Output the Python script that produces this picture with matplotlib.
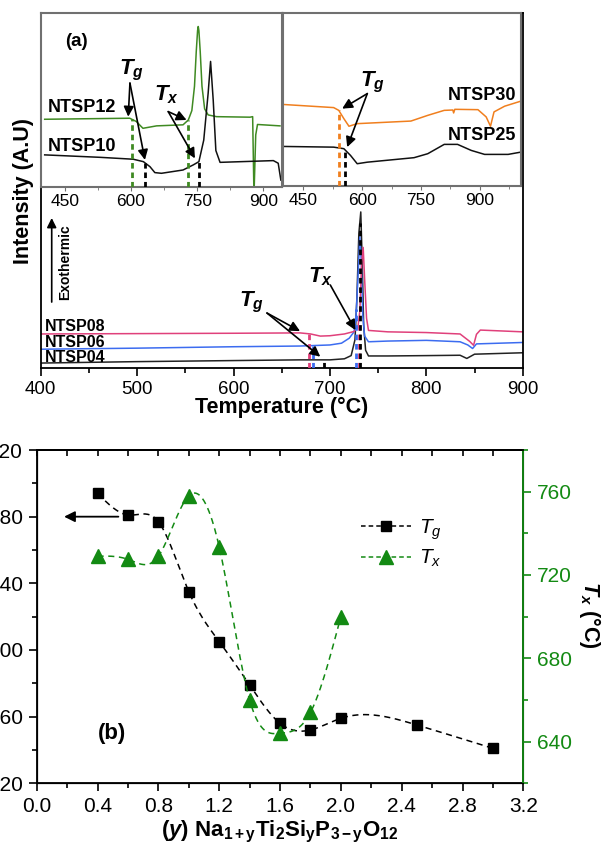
import numpy as np
import matplotlib
matplotlib.use('Agg')
from matplotlib import pyplot as plt
from matplotlib.ticker import MultipleLocator
from matplotlib.lines import Line2D

plt.rcParams['font.family'] = ['Liberation Sans', 'DejaVu Sans']
plt.rcParams['mathtext.fontset'] = 'custom'
plt.rcParams['mathtext.rm'] = 'Liberation Sans'
plt.rcParams['mathtext.it'] = 'Liberation Sans:italic'
plt.rcParams['mathtext.bf'] = 'Liberation Sans:bold'
plt.rcParams['mathtext.bfit'] = 'Liberation Sans:italic:bold'

# ---- panel (a) main : DSC traces (temperature C, signal arb. units)
ntsp04_T = [400, 500, 600, 669, 700, 715, 722, 726, 728, 730, 732, 733.5, 735, 737, 740, 760, 800, 835, 842, 846, 850, 900]
ntsp04_I = [1.4, 1.8, 2.1, 2.3, 2.3, 2.6, 3.5, 8, 20, 38, 44, 30, 12, 5, 3.4, 3.4, 3.5, 3.6, 2.7, 3.3, 3.9, 4.3]
ntsp06_T = [400, 500, 600, 669, 700, 712, 720, 725, 727, 729, 731, 732.5, 734, 736, 740, 760, 800, 835, 843, 848, 852, 900]
ntsp06_I = [5.3, 5.6, 6.0, 6.2, 6.5, 7.0, 8.4, 10.2, 14, 25, 37, 30, 15, 9, 7.4, 7.6, 7.8, 7.4, 6.5, 5.5, 6.8, 7.2]
ntsp08_T = [400, 600, 669, 680, 690, 700, 715, 725, 729, 731, 733, 734.5, 736, 738, 740, 760, 800, 835, 845, 849, 852, 856, 900]
ntsp08_I = [9.6, 9.8, 9.9, 9.6, 9.0, 9.1, 9.6, 10.3, 11.5, 16, 30, 34, 25, 14, 10.6, 10.2, 10.0, 9.6, 7.5, 6.4, 9.5, 10.7, 10.2]
ntsp04_marks = [694, 731]
ntsp06_marks = [682, 727.5]
ntsp08_marks = [678, 729.8]

# ---- panel (a) left inset
ntsp12_T = [404, 597, 612, 627, 658, 718, 730, 738, 744, 748, 751, 752.5, 754, 757, 761, 767, 775, 794, 870, 876, 879, 883, 887, 938]
ntsp12_I = [39.0, 39.6, 37.7, 33.8, 35.2, 35.8, 38.6, 44, 58, 78, 90, 92.4, 90, 78, 58, 45, 41.5, 40.5, 40.2, 40.5, -5, 30, 36, 35.2]
ntsp10_T = [404, 529, 605, 628, 643, 654, 669, 718, 741, 754, 765, 775, 780.5, 786.5, 792.5, 802, 923, 934, 940]
ntsp10_I = [18.5, 17.1, 16.0, 14.6, 11.7, 8.3, 7.9, 9.8, 12.7, 14.6, 27, 54, 72.3, 50, 21, 14.2, 15.2, 13.7, 4]
ntsp12_marks = [602.7, 730]
ntsp10_marks = [632, 754]

# ---- panel (a) right inset
ntsp30_T = [399, 527, 540, 553, 566, 587, 724, 767, 809, 831, 833, 836, 895, 916, 927, 936, 963, 1004]
ntsp30_I = [47.2, 45.4, 43.8, 39, 34.6, 36.1, 37.6, 40.9, 43.8, 44.0, 42.3, 44.4, 44.2, 40, 34.6, 42.9, 46.2, 49.1]
ntsp25_T = [399, 527, 553, 570, 587, 613, 732, 767, 809, 843, 878, 912, 972, 1004]
ntsp25_I = [22.9, 22.5, 21.6, 17.7, 12.9, 13.8, 16.4, 18.7, 24.1, 24.1, 20.6, 18.3, 18.3, 19.6]
ntsp30_marks = [540]
ntsp25_marks = [555]

# ---- panel (b)
y_content = [0.4, 0.6, 0.8, 1.0, 1.2, 1.4, 1.6, 1.8, 2.0, 2.5, 3.0]
tg_values = [694, 681, 677, 635, 605, 579, 556, 552, 559, 555, 541]
tx_content = [0.4, 0.6, 0.8, 1.0, 1.2, 1.4, 1.6, 1.8, 2.0]
tx_values = [729, 727.5, 729, 758, 733.5, 660, 644, 654, 700]

pink = '#e0407b'
blue = '#3c6cf0'
green_a = '#3f8a22'
orange = '#f07f1e'
green_b = '#138a13'
frame_gray = '#707070'


def natural_spline(xs, ys, num=300):
    xs = np.asarray(xs, float)
    ys = np.asarray(ys, float)
    n = len(xs)
    h = np.diff(xs)
    A = np.zeros((n, n))
    r = np.zeros(n)
    A[0, 0] = 1
    A[-1, -1] = 1
    for i in range(1, n - 1):
        A[i, i - 1] = h[i - 1]
        A[i, i] = 2 * (h[i - 1] + h[i])
        A[i, i + 1] = h[i]
        r[i] = 6 * ((ys[i + 1] - ys[i]) / h[i] - (ys[i] - ys[i - 1]) / h[i - 1])
    m = np.linalg.solve(A, r)
    xx = np.linspace(xs[0], xs[-1], num)
    k = np.clip(np.searchsorted(xs, xx) - 1, 0, n - 2)
    t0 = xx - xs[k]
    t1 = xs[k + 1] - xx
    hk = h[k]
    yy = (m[k] * t1 ** 3 + m[k + 1] * t0 ** 3) / (6 * hk) \
        + (ys[k] / hk - m[k] * hk / 6) * t1 + (ys[k + 1] / hk - m[k + 1] * hk / 6) * t0
    return xx, yy


def draw_marks(ax, T, I, marks, color):
    for t in marks:
        ax.plot([t, t], [0, np.interp(t, T, I)], color=color, lw=2, ls=(0, (2, 1.4)), zorder=3)


def point_to(ax, tail, heads):
    for hd in heads:
        ax.annotate('', xy=hd, xytext=tail,
                    arrowprops=dict(arrowstyle='-|>', color='k', lw=1.2,
                                    mutation_scale=15, shrinkA=0, shrinkB=0))


fig = plt.figure(figsize=(6.06, 8.47), dpi=100)

# ================= panel (a)
ax = fig.add_axes([0.0672, 0.5655, 0.7954, 0.4188])
ax.set_xlim(400, 900)
ax.set_ylim(0, 100)
ax.plot(ntsp04_T, ntsp04_I, color='#222222', lw=1.1)
ax.plot(ntsp06_T, ntsp06_I, color=blue, lw=1.1)
ax.plot(ntsp08_T, ntsp08_I, color=pink, lw=1.1)
draw_marks(ax, ntsp04_T, ntsp04_I, ntsp04_marks[:1], 'k')
draw_marks(ax, ntsp06_T, ntsp06_I, ntsp06_marks, blue)
draw_marks(ax, ntsp08_T, ntsp08_I, ntsp08_marks, pink)
draw_marks(ax, ntsp04_T, ntsp04_I, ntsp04_marks[1:], 'k')
ax.set_yticks([])
ax.xaxis.set_major_locator(MultipleLocator(100))
ax.xaxis.set_minor_locator(MultipleLocator(50))
ax.tick_params(axis='x', which='major', direction='out', length=6, width=1.2, labelsize=13.5, pad=3)
ax.tick_params(axis='x', which='minor', direction='out', length=3.5, width=1.2)
for s in ax.spines.values():
    s.set_linewidth(1.3)
ax.text(404.5, 11.6, 'NTSP08', fontsize=11.5, fontweight='bold', va='center')
ax.text(404.5, 7.2, 'NTSP06', fontsize=11.5, fontweight='bold', va='center')
ax.text(404.5, 2.9, 'NTSP04', fontsize=11.5, fontweight='bold', va='center')
ax.text(619, 18.6, r'$\mathbfit{T}_{\mathbfit{g}}$', fontsize=16, ha='center', va='center')
point_to(ax, (634.7, 15.5), [(669, 10.4), (690, 3.2)])
ax.text(690, 25.7, r'$\mathbfit{T}_{\mathbfit{x}}$', fontsize=16, ha='center', va='center')
point_to(ax, (700.4, 23.4), [(726.4, 10.7)])
ax.annotate('', xy=(411.4, 42.3), xytext=(411.4, 18.6),
            arrowprops=dict(arrowstyle='-|>', color='k', lw=1.2, mutation_scale=14, shrinkA=0, shrinkB=0))
ax.text(425.2, 29.9, 'Exothermic', fontsize=10, fontweight='bold', rotation=90, ha='center', va='center')

fig.text(0.4649, 0.5195, 'Temperature (°C)', fontsize=15.5, fontweight='bold', ha='center', va='center')
fig.text(0.0385, 0.7749, 'Intensity (A.U)', fontsize=15.5, fontweight='bold', rotation=90, ha='center', va='center')

# left inset
ax1 = fig.add_axes([0.0672, 0.7792, 0.3977, 0.2051])
ax1.set_xlim(395, 942)
ax1.set_ylim(0, 100)
ax1.plot(ntsp12_T, ntsp12_I, color=green_a, lw=1.1)
ax1.plot(ntsp10_T, ntsp10_I, color='#111111', lw=1.1)
draw_marks(ax1, ntsp12_T, ntsp12_I, ntsp12_marks, green_a)
draw_marks(ax1, ntsp10_T, ntsp10_I, ntsp10_marks, 'k')
ax1.text(411, 45.6, 'NTSP12', fontsize=13, fontweight='bold', va='center')
ax1.text(411, 23.2, 'NTSP10', fontsize=13, fontweight='bold', va='center')
ax1.text(450, 83.8, '(a)', fontsize=13.5, fontweight='bold', va='center')
ax1.text(602, 67, r'$\mathbfit{T}_{\mathbfit{g}}$', fontsize=16, ha='center', va='center')
point_to(ax1, (597.5, 59.8), [(593.6, 40.5), (631.5, 15.6)])
ax1.text(681, 53, r'$\mathbfit{T}_{\mathbfit{x}}$', fontsize=16, ha='center', va='center')
point_to(ax1, (684.4, 43.4), [(726, 38.6), (745, 16.5)])

# right inset
ax2 = fig.add_axes([0.4665, 0.7804, 0.3927, 0.2039])
ax2.set_xlim(397, 1004)
ax2.set_ylim(0, 100)
ax2.plot(ntsp30_T, ntsp30_I, color=orange, lw=1.1)
ax2.plot(ntsp25_T, ntsp25_I, color='#111111', lw=1.1)
draw_marks(ax2, ntsp30_T, ntsp30_I, ntsp30_marks, orange)
draw_marks(ax2, ntsp25_T, ntsp25_I, ntsp25_marks, 'k')
ax2.text(993, 52.6, 'NTSP30', fontsize=13, fontweight='bold', ha='right', va='center')
ax2.text(993, 29.3, 'NTSP25', fontsize=13, fontweight='bold', ha='right', va='center')
ax2.text(626, 60, r'$\mathbfit{T}_{\mathbfit{g}}$', fontsize=16, ha='center', va='center')
point_to(ax2, (612.8, 53.5), [(548.7, 44.8), (561.5, 22.5)])

for a in (ax1, ax2):
    a.set_yticks([])
    a.xaxis.set_major_locator(MultipleLocator(150))
    a.xaxis.set_minor_locator(MultipleLocator(75))
    a.tick_params(axis='x', which='major', direction='out', length=3, labelsize=12.5, pad=2, color=frame_gray)
    a.tick_params(axis='x', which='minor', direction='out', length=2, color=frame_gray)
    for s in a.spines.values():
        s.set_color(frame_gray)
        s.set_linewidth(1.5)

# ================= panel (b)
axb = fig.add_axes([0.0606, 0.0752, 0.803, 0.3935])
axb.set_xlim(0, 3.2)
axb.set_ylim(520, 720)
xs, ys = natural_spline(y_content, tg_values)
axb.plot(xs, ys, color='k', lw=1.1, ls=(0, (4, 3)))
axb.plot(y_content, tg_values, ls='none', marker='s', ms=7.5, color='k')
axb.xaxis.set_major_locator(MultipleLocator(0.4))
axb.xaxis.set_minor_locator(MultipleLocator(0.2))
axb.yaxis.set_major_locator(MultipleLocator(40))
axb.yaxis.set_minor_locator(MultipleLocator(20))
axb.xaxis.set_major_formatter(plt.FuncFormatter(lambda v, p: '%.1f' % v))
axb.tick_params(which='major', direction='out', length=6, width=1.2, labelsize=15, pad=4)
axb.tick_params(which='minor', direction='out', length=3.5, width=1.2)
for s in axb.spines.values():
    s.set_linewidth(1.3)
axb.annotate('', xy=(0.18, 680), xytext=(0.537, 680),
             arrowprops=dict(arrowstyle='-|>', color='k', lw=1.3, mutation_scale=16, shrinkA=0, shrinkB=0))
axb.text(0.4, 550, '(b)', fontsize=16, fontweight='bold', va='center')

# top ticks point inward
axt = axb.twiny()
axt.set_xlim(0, 3.2)
axt.xaxis.set_major_locator(MultipleLocator(0.2))
axt.tick_params(axis='x', direction='in', length=4, width=1.2, labeltop=False)
axt.spines['top'].set_linewidth(1.3)

axr = axb.twinx()
axr.set_ylim(620, 780)
xs, ys = natural_spline(tx_content, tx_values)
axr.plot(xs, ys, color=green_b, lw=1.1, ls=(0, (4, 3)))
axr.plot(tx_content, tx_values, ls='none', marker='^', ms=10, color=green_b)
axr.yaxis.set_major_locator(MultipleLocator(40))
axr.yaxis.set_minor_locator(MultipleLocator(20))
axr.tick_params(which='major', direction='out', length=6, width=1.2, labelsize=15, pad=4,
                colors=green_b)
axr.tick_params(which='minor', direction='out', length=3.5, width=1.2, colors=green_b)
axr.spines['right'].set_color(green_b)
axr.spines['right'].set_linewidth(1.3)
axr.spines['top'].set_linewidth(1.3)

h1 = Line2D([], [], color='k', ls=(0, (3, 2)), lw=1.1, marker='s', ms=7.5)
h2 = Line2D([], [], color=green_b, ls=(0, (3, 2)), lw=1.1, marker='^', ms=10)
axr.legend([h1, h2], [r'$\mathit{T}_{\mathit{g}}$', r'$\mathit{T}_{\mathit{x}}$'],
           loc='center', bbox_to_anchor=(0.75, 0.72), frameon=False, fontsize=15,
           handlelength=2.4, handletextpad=0.4, labelspacing=0.3)

fig.text(590 / 606, 1 - 615 / 847, r'$\mathbfit{T}_{\mathbfit{x}}$ (°C)', fontsize=15.5, fontweight='bold',
         rotation=270, ha='center', va='center')
fig.text(0.462, 0.0177, r'$\mathbf{(}\mathbfit{y}\mathbf{)\ Na_{1+y}Ti_{2}Si_{y}P_{3-y}O_{12}}$',
         fontsize=16, ha='center', va='center')

fig.savefig('out.png', dpi=100)
